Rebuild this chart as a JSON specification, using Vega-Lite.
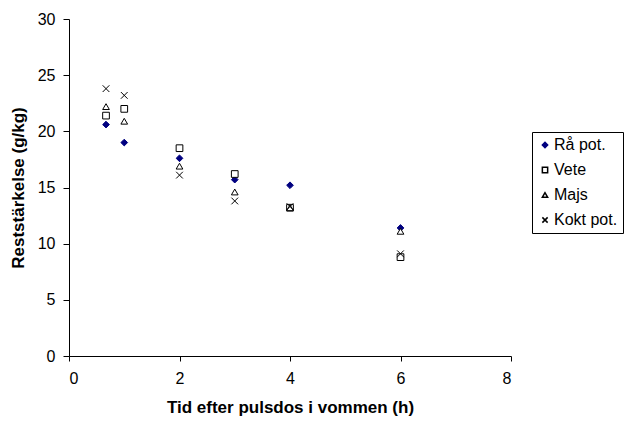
{
  "$schema": "https://vega.github.io/schema/vega-lite/v6.json",
  "width": 442,
  "height": 337,
  "autosize": "none",
  "padding": {"left": 69, "top": 19, "right": 115, "bottom": 70},
  "background": "white",
  "config": {
    "font": "Liberation Sans",
    "view": {"stroke": null},
    "axis": {"grid": false, "domainColor": "black", "tickColor": "black", "labelColor": "black", "titleColor": "black", "labelFont": "Liberation Sans", "titleFont": "Liberation Sans"}
  },
  "data": {
    "values": [
      {"tid": 0.67, "rest": 20.6, "serie": "Rå pot."},
      {"tid": 1, "rest": 19.0, "serie": "Rå pot."},
      {"tid": 2, "rest": 17.6, "serie": "Rå pot."},
      {"tid": 3, "rest": 15.7, "serie": "Rå pot."},
      {"tid": 4, "rest": 15.2, "serie": "Rå pot."},
      {"tid": 6, "rest": 11.4, "serie": "Rå pot."},
      {"tid": 0.67, "rest": 21.4, "serie": "Vete"},
      {"tid": 1, "rest": 22.0, "serie": "Vete"},
      {"tid": 2, "rest": 18.5, "serie": "Vete"},
      {"tid": 3, "rest": 16.2, "serie": "Vete"},
      {"tid": 4, "rest": 13.2, "serie": "Vete"},
      {"tid": 6, "rest": 8.8, "serie": "Vete"},
      {"tid": 0.67, "rest": 22.2, "serie": "Majs"},
      {"tid": 1, "rest": 20.9, "serie": "Majs"},
      {"tid": 2, "rest": 16.9, "serie": "Majs"},
      {"tid": 3, "rest": 14.6, "serie": "Majs"},
      {"tid": 4, "rest": 13.2, "serie": "Majs"},
      {"tid": 6, "rest": 11.1, "serie": "Majs"},
      {"tid": 0.67, "rest": 23.8, "serie": "Kokt pot."},
      {"tid": 1, "rest": 23.2, "serie": "Kokt pot."},
      {"tid": 2, "rest": 16.1, "serie": "Kokt pot."},
      {"tid": 3, "rest": 13.8, "serie": "Kokt pot."},
      {"tid": 4, "rest": 13.3, "serie": "Kokt pot."},
      {"tid": 6, "rest": 9.1, "serie": "Kokt pot."}
    ]
  },
  "mark": {"type": "point", "filled": false, "strokeWidth": 1, "size": 45, "opacity": 1},
  "encoding": {
    "x": {
      "field": "tid", "type": "quantitative",
      "scale": {"domain": [0, 8], "nice": false},
      "axis": {"values": [0, 2, 4, 6, 8], "title": "Tid efter pulsdos i vommen (h)", "labelFontSize": 16, "titleFontSize": 17, "titleFontWeight": "bold", "tickSize": 5, "labelPadding": 9, "titlePadding": 13}
    },
    "y": {
      "field": "rest", "type": "quantitative",
      "scale": {"domain": [0, 30], "nice": false},
      "axis": {"values": [0, 5, 10, 15, 20, 25, 30], "title": "Reststärkelse (g/kg)", "labelFontSize": 16, "titleFontSize": 17, "titleFontWeight": "bold", "tickSize": 6, "labelPadding": 8, "titlePadding": 10}
    },
    "shape": {
      "field": "serie", "type": "nominal",
      "scale": {"domain": ["Rå pot.", "Vete", "Majs", "Kokt pot."], "range": ["diamond", "square", "triangle-up", "M-1,-1L1,1M-1,1L1,-1"]},
      "legend": {"title": null, "orient": "none", "legendX": 463, "legendY": 113, "strokeColor": "black", "padding": 5, "labelFontSize": 16, "labelFont": "Liberation Sans", "labelColor": "black", "rowPadding": 9, "symbolSize": 28, "labelOffset": 1}
    },
    "stroke": {
      "field": "serie", "type": "nominal",
      "scale": {"domain": ["Rå pot.", "Vete", "Majs", "Kokt pot."], "range": ["#000080", "black", "black", "black"]},
      "legend": null
    },
    "fill": {
      "field": "serie", "type": "nominal",
      "scale": {"domain": ["Rå pot.", "Vete", "Majs", "Kokt pot."], "range": ["#000080", "white", "white", "transparent"]},
      "legend": null
    }
  }
}
